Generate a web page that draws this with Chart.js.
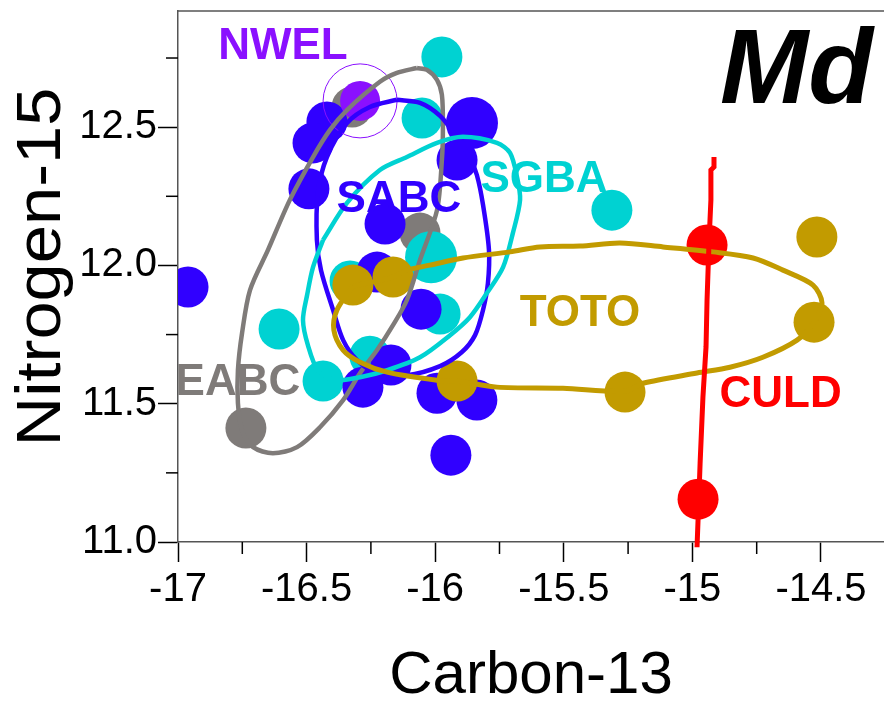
<!DOCTYPE html>
<html>
<head>
<meta charset="utf-8">
<script src="https://cdn.jsdelivr.net/npm/chart.js@4.4.1/dist/chart.umd.min.js"></script>
<style>
  html, body { margin: 0; padding: 0; background: #fff; }
  #wrap { width: 884px; height: 706px; }
</style>
</head>
<body>
<div id="wrap"><canvas id="chart" width="884" height="706"></canvas></div>
<script>
// ===========================
// DATA (Carbon-13 vs Nitrogen-15)
// ===========================

const xTicks = [-17, -16.5, -16, -15.5, -15, -14.5];
const yTicks = [11.0, 11.5, 12.0, 12.5];
const xMinorTicks = [-16.75, -16.25, -15.75, -15.25, -14.75];
const yMinorTicks = [11.25, 11.75, 12.25, 12.75];

// SABC (blue)
const sabcX = [-16.961, -16.421, -16.475, -16.491, -15.857, -15.915, -16.195, -16.226, -16.055, -16.172, -16.281, -15.993, -15.838, -15.939];
const sabcY = [11.922, 12.519, 12.443, 12.277, 12.515, 12.381, 12.150, 11.976, 11.842, 11.640, 11.560, 11.538, 11.513, 11.314];

// SGBA (cyan)
const sgbaX = [-15.974, -16.051, -15.313, -16.016, -15.981, -16.607, -16.254, -16.436, -16.331];
const sgbaY = [12.754, 12.533, 12.200, 12.030, 11.824, 11.770, 11.672, 11.582, 11.944];

// EABC (grey)
const eabcX = [-16.059, -16.736, -16.323];
const eabcY = [12.117, 11.412, 12.573];

// TOTO (gold)
const totoX = [-16.320, -16.164, -15.915, -15.262, -14.516, -14.527];
const totoY = [11.929, 11.958, 11.582, 11.542, 12.103, 11.795];

// CULD (red)
const culdX = [-14.943, -14.978];
const culdY = [12.074, 11.155];

// NWEL (purple)
const nwelX = [-16.292];
const nwelY = [12.595];

// ellipse outlines
const eabcEllX = [-16.071, -16.032, -15.993, -15.974, -15.970, -15.974, -15.993, -16.059, -16.110, -16.164, -16.226, -16.292, -16.358, -16.448, -16.537, -16.631, -16.708, -16.751, -16.767, -16.767, -16.751, -16.720, -16.650, -16.565, -16.475, -16.409, -16.343, -16.215, -16.149, -16.071];
const eabcEllY = [12.714, 12.707, 12.671, 12.617, 12.501, 12.381, 12.200, 12.020, 11.875, 11.784, 11.694, 11.611, 11.513, 11.415, 11.343, 11.321, 11.343, 11.404, 11.502, 11.621, 11.755, 11.911, 12.056, 12.237, 12.392, 12.490, 12.562, 12.664, 12.696, 12.714];

const sabcEllX = [-16.149, -16.059, -15.981, -15.923, -15.865, -15.838, -15.814, -15.791, -15.795, -15.814, -15.845, -15.896, -15.981, -16.110, -16.226, -16.304, -16.358, -16.397, -16.444, -16.460, -16.456, -16.421, -16.343, -16.254, -16.149];
const sabcEllY = [12.599, 12.588, 12.541, 12.472, 12.389, 12.327, 12.219, 12.056, 11.936, 11.839, 11.748, 11.687, 11.636, 11.603, 11.611, 11.658, 11.730, 11.839, 11.983, 12.092, 12.262, 12.392, 12.515, 12.573, 12.599];

const sgbaEllX = [-16.436, -16.343, -16.215, -16.110, -15.993, -15.892, -15.760, -15.709, -15.682, -15.670, -15.698, -15.736, -15.799, -15.865, -15.942, -16.059, -16.187, -16.292, -16.390, -16.456, -16.495, -16.514, -16.498, -16.475, -16.436];
const sgbaEllY = [12.092, 12.226, 12.345, 12.392, 12.443, 12.465, 12.443, 12.407, 12.320, 12.237, 12.117, 11.994, 11.900, 11.813, 11.748, 11.668, 11.621, 11.596, 11.585, 11.621, 11.712, 11.802, 11.893, 11.994, 12.092];

const totoEllX = [-16.320, -16.164, -16.110, -16.020, -15.892, -15.709, -15.593, -15.437, -15.282, -15.114, -14.920, -14.764, -14.648, -14.531, -14.496, -14.527, -14.593, -14.726, -14.854, -14.982, -15.192, -15.262, -15.503, -15.760, -15.915, -15.993, -16.187, -16.292, -16.358, -16.394, -16.382, -16.320];
const totoEllY = [11.925, 11.958, 11.983, 12.001, 12.027, 12.049, 12.067, 12.070, 12.081, 12.067, 12.049, 12.027, 11.983, 11.929, 11.864, 11.795, 11.730, 11.668, 11.632, 11.611, 11.574, 11.545, 11.556, 11.560, 11.582, 11.585, 11.614, 11.650, 11.694, 11.766, 11.839, 11.925];

const culdLineX = [-14.916, -14.916, -14.928, -14.928, -14.935, -14.943, -14.947, -14.959, -14.970, -14.978, -14.982];
const culdLineY = [12.392, 12.356, 12.345, 12.237, 12.092, 11.875, 11.705, 11.524, 11.285, 11.079, 10.981];

// group labels
const labelText = ["NWEL", "SABC", "SGBA", "TOTO", "CULD", "EABC"];
const labelX = [-16.592, -16.141, -15.577, -15.437, -14.657, -16.767];
const labelY = [12.792, 12.237, 12.309, 11.826, 11.531, 11.574];

// ===========================
// STYLE
// ===========================

const BLUE = "#3000ff";
const CYAN = "#00d2d2";
const GREY = "#7f7b79";
const GOLD = "#c29b00";
const RED = "#ff0000";
const PURPLE = "#8a10ff";
const labelColors = [PURPLE, BLUE, CYAN, GOLD, RED, GREY];
const FONT = "'Liberation Sans', Arial, sans-serif";

function pts(xs, ys) {
  return xs.map((x, i) => ({ x: x, y: ys[i] }));
}

function dots(xs, ys, color, radius) {
  return {
    data: pts(xs, ys),
    backgroundColor: color,
    borderWidth: 0,
    pointRadius: radius,
    pointHoverRadius: radius,
    showLine: false,
  };
}

function outline(xs, ys, color, width, tension) {
  return {
    data: pts(xs, ys),
    showLine: true,
    borderColor: color,
    borderWidth: width,
    pointRadius: 0,
    pointHoverRadius: 0,
    tension: tension,
    fill: false,
  };
}

// bigger markers in the picture
const sabcRadius = sabcX.map((v, i) => (i === 4 ? 26 : 20.5));
const sgbaRadius = sgbaX.map((v, i) => (i === 3 ? 26 : 20.5));

// first dataset is drawn on top
const datasets = [
  Object.assign(outline(culdLineX, culdLineY, RED, 5, 0), { clip: 8 }),
  outline(totoEllX, totoEllY, GOLD, 5, 0.3),
  outline(sgbaEllX, sgbaEllY, CYAN, 4.5, 0.3),
  outline(sabcEllX, sabcEllY, BLUE, 4.5, 0.3),
  outline(eabcEllX, eabcEllY, GREY, 4.5, 0.3),
  {
    data: pts(nwelX, nwelY),
    backgroundColor: "rgba(0,0,0,0)",
    borderColor: PURPLE,
    borderWidth: 1,
    pointRadius: 37,
    pointHoverRadius: 37,
  },
  dots(nwelX, nwelY, PURPLE, 20),
  dots(culdX, culdY, RED, 20.5),
  dots(totoX, totoY, GOLD, 20.5),
  dots(sabcX, sabcY, BLUE, sabcRadius),
  dots(sgbaX, sgbaY, CYAN, sgbaRadius),
  dots(eabcX, eabcY, GREY, 20.5),
];

// ===========================
// EXTRA DRAWING (minor ticks, titles, labels)
// ===========================

const decor = {
  id: "decor",
  afterDraw(chart) {
    const ctx = chart.ctx;
    const a = chart.chartArea;
    const sx = chart.scales.x;
    const sy = chart.scales.y;
    ctx.save();

    // top frame line
    ctx.strokeStyle = "#555";
    ctx.lineWidth = 1.5;
    ctx.beginPath();
    ctx.moveTo(a.left, a.top);
    ctx.lineTo(a.right, a.top);
    ctx.stroke();

    // minor ticks
    ctx.strokeStyle = "#000";
    ctx.lineWidth = 1.5;
    xMinorTicks.forEach((v) => {
      const px = sx.getPixelForValue(v);
      ctx.beginPath();
      ctx.moveTo(px, a.bottom);
      ctx.lineTo(px, a.bottom + 12);
      ctx.stroke();
    });
    yMinorTicks.forEach((v) => {
      const py = sy.getPixelForValue(v);
      ctx.beginPath();
      ctx.moveTo(a.left, py);
      ctx.lineTo(a.left - 12, py);
      ctx.stroke();
    });

    // group labels
    ctx.font = "bold 44px " + FONT;
    ctx.textAlign = "center";
    ctx.textBaseline = "middle";
    labelText.forEach((t, i) => {
      ctx.fillStyle = labelColors[i];
      ctx.fillText(t, sx.getPixelForValue(labelX[i]), sy.getPixelForValue(labelY[i]));
    });

    // panel tag
    ctx.fillStyle = "#000";
    ctx.font = "italic bold 106px " + FONT;
    ctx.textAlign = "left";
    ctx.textBaseline = "alphabetic";
    ctx.fillText("Md", a.right - 164, a.top + 92);

    // axis titles
    ctx.font = "60px " + FONT;
    ctx.textAlign = "center";
    ctx.fillText("Carbon-13", (a.left + a.right) / 2, 693);

    ctx.save();
    ctx.translate(60, 267);
    ctx.rotate(-Math.PI / 2);
    ctx.scale(1.09, 1);
    ctx.font = "63px " + FONT;
    ctx.fillText("Nitrogen-15", 0, 0);
    ctx.restore();

    ctx.restore();
  },
};

// drop the automatic label paddings so the plot box matches the picture
function fixBox(s, key, size) {
  s[key] = size;
  s.paddingTop = 0;
  s.paddingBottom = 0;
  s.paddingLeft = 0;
  s.paddingRight = 0;
}

// ===========================
// CHART
// ===========================

new Chart(document.getElementById("chart"), {
  type: "scatter",
  data: { datasets: datasets },
  options: {
    responsive: false,
    animation: false,
    devicePixelRatio: 1,
    layout: { autoPadding: false, padding: { top: 11, right: 0, left: 0, bottom: 0 } },
    plugins: {
      legend: { display: false },
      tooltip: { enabled: false },
    },
    scales: {
      x: {
        type: "linear",
        position: "bottom",
        min: -17,
        max: -14.255,
        afterFit: (s) => fixBox(s, "height", 164),
        afterBuildTicks: (s) => { s.ticks = xTicks.map((v) => ({ value: v })); },
        ticks: {
          color: "#000",
          padding: 4,
          maxRotation: 0,
          autoSkip: false,
          font: { family: FONT, size: 40 },
          callback: (v) => String(v),
        },
        grid: {
          display: true,
          drawOnChartArea: false,
          drawTicks: true,
          tickLength: 20,
          tickColor: "#000",
          tickWidth: 1.5,
        },
        border: { display: true, color: "#555", width: 1.5 },
      },
      y: {
        type: "linear",
        position: "left",
        min: 11,
        max: 12.92,
        afterFit: (s) => fixBox(s, "width", 178),
        afterBuildTicks: (s) => { s.ticks = yTicks.map((v) => ({ value: v })); },
        ticks: {
          color: "#000",
          padding: 1,
          autoSkip: false,
          font: { family: FONT, size: 40 },
          callback: (v) => v.toFixed(1),
        },
        grid: {
          display: true,
          drawOnChartArea: false,
          drawTicks: true,
          tickLength: 20,
          tickColor: "#000",
          tickWidth: 1.5,
        },
        border: { display: true, color: "#555", width: 1.5 },
      },
    },
  },
  plugins: [decor],
});
</script>
</body>
</html>
